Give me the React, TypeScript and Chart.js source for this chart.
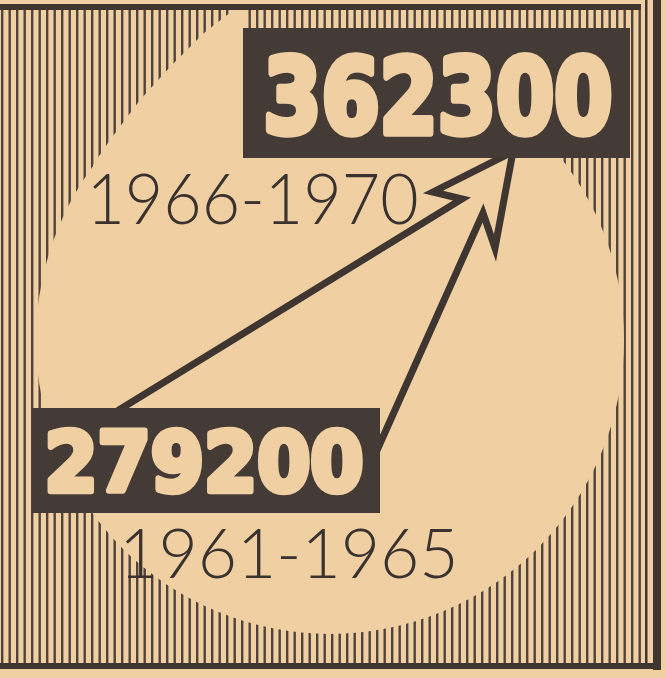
import React, { useEffect, useRef } from "react";
import { Chart, registerables } from "chart.js";

Chart.register(...registerables);

// ---- data ----
const periods = ["1961-1965", "1966-1970"];
const totals = [279200, 362300];
const periodIndex = [0, 1];

// ---- style ----
const BG = "#f0d0a3";
const STRIPE = "#4f433b";
const INK = "#3f3531";
const BOX = "#443a36";
const TEXT = "#3a322e";

function fitText(
  ctx: CanvasRenderingContext2D,
  text: string,
  weight: string,
  family: string,
  x: number,
  y: number,
  w: number,
  h: number,
  color: string,
  strokeW: number
) {
  ctx.save();
  ctx.textBaseline = "alphabetic";
  ctx.textAlign = "left";
  ctx.font = `${weight} 100px ${family}`;
  let m = ctx.measureText(text);
  const gh = m.actualBoundingBoxAscent + m.actualBoundingBoxDescent;
  const size = (100 * (h - strokeW)) / gh;
  ctx.font = `${weight} ${size}px ${family}`;
  m = ctx.measureText(text);
  const gw = m.actualBoundingBoxLeft + m.actualBoundingBoxRight;
  const sx = (w - strokeW) / gw;
  ctx.translate(x + strokeW / 2, y + strokeW / 2);
  ctx.scale(sx, 1);
  ctx.fillStyle = color;
  ctx.fillText(text, m.actualBoundingBoxLeft, m.actualBoundingBoxAscent);
  if (strokeW > 0) {
    ctx.strokeStyle = color;
    ctx.lineJoin = "round";
    ctx.lineWidth = strokeW / sx;
    ctx.strokeText(text, m.actualBoundingBoxLeft, m.actualBoundingBoxAscent);
  }
  ctx.restore();
}

const posterPlugin = {
  id: "poster",
  beforeDraw(chart: any) {
    const ctx: CanvasRenderingContext2D = chart.ctx;
    const W = chart.width;
    const H = chart.height;
    ctx.save();
    ctx.fillStyle = BG;
    ctx.fillRect(0, 0, W, H);
    // vertical hatching
    ctx.fillStyle = STRIPE;
    for (let x = 1; x < 645; x += 7.5) ctx.fillRect(x, 10, 2.4, 653);
    // light disc
    ctx.fillStyle = BG;
    ctx.beginPath();
    ctx.arc(330, 340, 294, 0, Math.PI * 2);
    ctx.fill();
    ctx.beginPath();
    const wedge = [
      [93, 165], [110, 140], [140, 100], [170, 67], [204, 33], [236, 8],
      [246, 8], [246, 230], [93, 230],
    ];
    wedge.forEach(([px, py], i) => (i ? ctx.lineTo(px, py) : ctx.moveTo(px, py)));
    ctx.closePath();
    ctx.fill();
    // frame
    ctx.fillStyle = INK;
    ctx.fillRect(0, 4, 641, 6);
    ctx.fillRect(645, 0, 2.5, 668);
    ctx.fillRect(653, 0, 8, 670);
    ctx.fillRect(0, 663, 661, 6);
    ctx.restore();
  },
  afterDatasetsDraw(chart: any) {
    const ctx: CanvasRenderingContext2D = chart.ctx;
    const xs = chart.scales.x;
    const ys = chart.scales.y;
    const P = periodIndex.map((i) => ({
      x: xs.getPixelForValue(i),
      y: ys.getPixelForValue(totals[i]),
    }));
    const B = P[0];
    const T = P[1];
    ctx.save();
    // zig-zag arrows
    ctx.strokeStyle = INK;
    ctx.lineWidth = 7;
    ctx.lineJoin = "miter";
    ctx.miterLimit = 12;
    ctx.lineCap = "butt";
    const arrows = [
      [[B.x - 88, B.y - 50], [T.x + 25.5, T.y + 106], [T.x - 3.5, T.y + 99], [T.x + 72, T.y + 61]],
      [[B.x + 170, B.y - 8], [T.x + 46.5, T.y + 120], [T.x + 58.5, T.y + 155], [T.x + 76, T.y + 61]],
    ];
    arrows.forEach((pts) => {
      ctx.beginPath();
      pts.forEach(([px, py], i) => (i ? ctx.lineTo(px, py) : ctx.moveTo(px, py)));
      ctx.stroke();
    });
    // value boxes
    const boxes = [
      { c: B, w: 348, h: 105, dx: 15, dy: 19, tw: 316, th: 68, text: String(totals[0]) },
      { c: T, w: 387, h: 130, dx: 22, dy: 24, tw: 347, th: 85, text: String(totals[1]) },
    ];
    boxes.forEach((b) => {
      const x0 = b.c.x - b.w / 2;
      const y0 = b.c.y - b.h / 2;
      ctx.fillStyle = BOX;
      ctx.fillRect(x0, y0, b.w, b.h);
      fitText(ctx, b.text, "bold", "'DejaVu Sans', sans-serif", x0 + b.dx, y0 + b.dy, b.tw, b.th, BG, 6);
    });
    // period labels
    fitText(ctx, periods[1], "300", "Lato, 'Open Sans', sans-serif", T.x - 343.5, T.y + 80, 324, 52, TEXT, 0);
    fitText(ctx, periods[0], "300", "Lato, 'Open Sans', sans-serif", B.x - 81, B.y + 67.5, 329, 50, TEXT, 0);
    ctx.restore();
  },
};

export default function App() {
  const ref = useRef<HTMLCanvasElement | null>(null);
  useEffect(() => {
    if (!ref.current) return;
    const chart = new Chart(ref.current, {
      type: "line",
      data: {
        datasets: [
          {
            label: "Итого",
            data: periodIndex.map((i) => ({ x: i, y: totals[i] })),
            showLine: false,
            pointRadius: 0,
            borderWidth: 0,
          },
        ],
      },
      options: {
        animation: false,
        responsive: false,
        layout: { padding: 0 },
        scales: {
          x: { type: "linear", display: false, min: -0.8937, max: 1.9913 },
          y: { type: "linear", display: false, min: 230018, max: 383329 },
        },
        plugins: { legend: { display: false }, tooltip: { enabled: false } },
      },
      plugins: [posterPlugin],
    });
    return () => chart.destroy();
  }, []);
  return (
    <div style={{ position: "absolute", left: 0, top: 0, width: 665, height: 678 }}>
      <canvas ref={ref} width={665} height={678} style={{ display: "block" }} />
    </div>
  );
}
